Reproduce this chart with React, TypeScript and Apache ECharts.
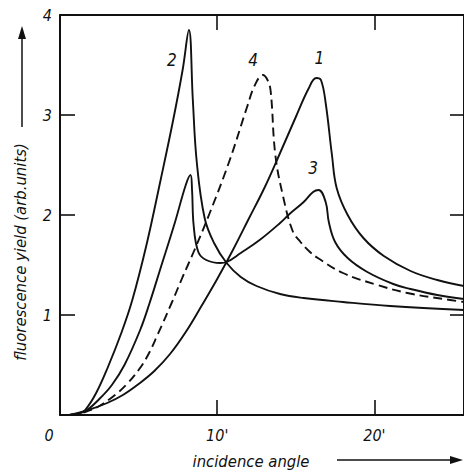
import React, { useEffect, useRef } from "react";
import * as echarts from "echarts";

const xTicks = [0, 10, 20];
const xTickLabels = ["0", "10'", "20'"];
const yTickLabels = ["", "1", "2", "3", "4"];

const curve1: number[][] = [
  [0.6, 0], [1.8, 0.05], [3, 0.12], [4, 0.2], [5, 0.31], [6, 0.44], [7, 0.61], [8, 0.83],
  [9, 1.09], [10, 1.36], [11, 1.65], [12, 1.96], [13, 2.27], [14, 2.62], [15, 2.98],
  [15.8, 3.26], [16.3, 3.37], [16.6, 3.35], [16.9, 3.12], [17.3, 2.6], [17.6, 2.27],
  [18.3, 2.0], [19.3, 1.77], [20.6, 1.59], [22.3, 1.44], [24, 1.35], [25.7, 1.29],
];

const curve2: number[][] = [
  [0.6, 0], [1.2, 0.015], [1.6, 0.05], [2.3, 0.22], [3.05, 0.48], [3.9, 0.82], [4.6, 1.15],
  [5.5, 1.7], [6.4, 2.35], [7.2, 2.95], [7.8, 3.45], [8.2, 3.85], [8.45, 3.15], [8.7, 2.53],
  [9.2, 1.97], [9.8, 1.72], [10.6, 1.52], [11.5, 1.38], [12.5, 1.29], [14, 1.21],
  [15.5, 1.17], [18, 1.13], [21, 1.09], [25.7, 1.05],
];

const curve3: number[][] = [
  [0.6, 0], [1.6, 0.04], [2.5, 0.16], [3.3, 0.3], [4.1, 0.5], [5.1, 0.85], [5.7, 1.12],
  [6.4, 1.47], [7.3, 1.92], [8.0, 2.3], [8.3, 2.4], [8.4, 2.25], [8.5, 1.9], [8.8, 1.63],
  [9.3, 1.55], [10.2, 1.52], [10.6, 1.53], [11.5, 1.62], [12.7, 1.75], [14, 1.92],
  [14.6, 2.01], [15.5, 2.13], [16.1, 2.23], [16.45, 2.25], [16.9, 2.13], [17.1, 1.93],
  [17.5, 1.73], [18.3, 1.57], [19.55, 1.43], [21.2, 1.31], [22.3, 1.26], [24, 1.2], [25.7, 1.16],
];

const curve4: number[][] = [
  [0.6, 0], [1.6, 0.03], [2.5, 0.09], [3.5, 0.2], [4.2, 0.3], [5, 0.45], [5.6, 0.6], [6.2, 0.8],
  [7.1, 1.12], [7.8, 1.38], [8.5, 1.63], [9.55, 2.03], [10.8, 2.55], [11.9, 3.08],
  [12.4, 3.3], [12.9, 3.4], [13.2, 3.35], [13.4, 3.24], [13.7, 2.6], [14.2, 2.18],
  [14.8, 1.84], [15.3, 1.73], [15.9, 1.63], [16.4, 1.57], [18, 1.42], [20.2, 1.3],
  [22.1, 1.22], [24.4, 1.16], [25.7, 1.13],
];

const curveNames = ["1", "2", "3", "4"];
const curveLabelPos: number[][] = [
  [16.5, 3.57],
  [7.12, 3.55],
  [16.1, 2.47],
  [12.28, 3.55],
];

const X_MAX = 25.7;
const FONT = "'DejaVu Sans Condensed', 'DejaVu Sans', sans-serif";

export default function App() {
  const ref = useRef<HTMLDivElement>(null);
  useEffect(() => {
    if (!ref.current) return;
    const chart = echarts.init(ref.current, null, { renderer: "svg" });
    const curves = [curve1, curve2, curve3, curve4];
    const series: any[] = curves.map((d, i) => ({
      type: "line",
      name: curveNames[i],
      data: d,
      showSymbol: false,
      smooth: 0.4,
      lineStyle: {
        color: "#111",
        width: 1.9,
        type: i === 3 ? [9, 5] : "solid",
      },
      markPoint: {
        symbol: "circle",
        symbolSize: 0,
        silent: true,
        data: [
          {
            coord: curveLabelPos[i],
            label: {
              show: true,
              formatter: curveNames[i],
              color: "#111",
              fontSize: 17,
              fontStyle: "italic",
              fontFamily: FONT,
            },
          },
        ],
      },
    }));
    const tickStyle = { color: "#111", width: 1.6 };
    chart.setOption({
      animation: false,
      backgroundColor: "#fff",
      grid: { left: 60, top: 15, width: 404, height: 400 },
      xAxis: [
        {
          type: "value",
          min: 0,
          max: X_MAX,
          interval: 10,
          position: "bottom",
          axisLine: { onZero: false, lineStyle: { color: "#111", width: 2 } },
          axisTick: { inside: true, length: 15, lineStyle: tickStyle },
          splitLine: { show: false },
          axisLabel: {
            margin: 12,
            showMaxLabel: false,
            color: "#111",
            fontSize: 16,
            fontStyle: "italic",
            fontFamily: FONT,
            formatter: (v: number) => {
              const idx = xTicks.indexOf(v);
              if (idx < 0) return "";
              return idx === 0 ? "{z|" + xTickLabels[idx] + "}" : xTickLabels[idx];
            },
            rich: {
              z: {
                padding: [0, 22, 0, 0],
                fontSize: 16,
                fontStyle: "italic",
                fontFamily: FONT,
                color: "#111",
              },
            },
          },
        },
        {
          type: "value",
          min: 0,
          max: X_MAX,
          interval: 10,
          position: "top",
          axisLine: { onZero: false, lineStyle: { color: "#111", width: 2 } },
          axisTick: { inside: true, length: 15, lineStyle: tickStyle },
          splitLine: { show: false },
          axisLabel: { show: false },
        },
      ],
      yAxis: [
        {
          type: "value",
          min: 0,
          max: 4,
          interval: 1,
          position: "left",
          axisLine: { show: true, onZero: false, lineStyle: { color: "#111", width: 2 } },
          axisTick: { show: true, inside: true, length: 15, lineStyle: tickStyle },
          splitLine: { show: false },
          axisLabel: {
            margin: 8,
            color: "#111",
            fontSize: 16,
            fontStyle: "italic",
            fontFamily: FONT,
            formatter: (v: number) => yTickLabels[Math.round(v)] ?? "",
          },
        },
        {
          type: "value",
          min: 0,
          max: 4,
          interval: 1,
          position: "right",
          axisLine: { show: true, onZero: false, lineStyle: { color: "#111", width: 2 } },
          axisTick: { show: true, inside: true, length: 14, lineStyle: tickStyle },
          splitLine: { show: false },
          axisLabel: { show: false },
        },
      ],
      series,
      graphic: [
        {
          type: "text",
          x: 20,
          y: 252,
          rotation: Math.PI / 2,
          style: {
            text: "fluorescence yield (arb.units)",
            fill: "#111",
            fontSize: 16.5,
            fontStyle: "italic",
            fontFamily: FONT,
            align: "center",
            verticalAlign: "middle",
          },
        },
        {
          type: "line",
          shape: { x1: 22, y1: 127, x2: 22, y2: 36 },
          style: { stroke: "#111", lineWidth: 1.5 },
        },
        {
          type: "polygon",
          shape: { points: [[22, 26], [18, 39], [26, 39]] },
          style: { fill: "#111" },
        },
        {
          type: "text",
          x: 251,
          y: 461,
          style: {
            text: "incidence angle",
            fill: "#111",
            fontSize: 16.5,
            fontStyle: "italic",
            fontFamily: FONT,
            align: "center",
            verticalAlign: "middle",
          },
        },
        {
          type: "line",
          shape: { x1: 337, y1: 460, x2: 452, y2: 460 },
          style: { stroke: "#111", lineWidth: 1.5 },
        },
        {
          type: "polygon",
          shape: { points: [[463, 460], [450, 456], [450, 464]] },
          style: { fill: "#111" },
        },
      ],
    });
    return () => chart.dispose();
  }, []);
  return (
    <div
      ref={ref}
      style={{ position: "fixed", left: 0, top: 0, width: 464, height: 475, background: "#fff" }}
    />
  );
}
